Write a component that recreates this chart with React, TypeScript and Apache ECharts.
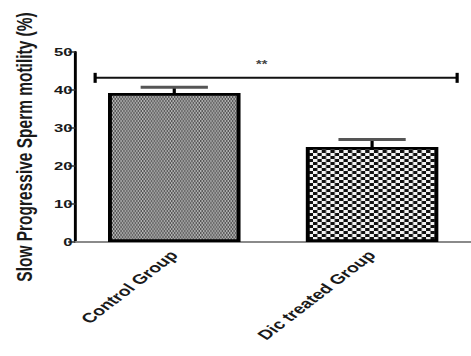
import React, { useEffect, useRef } from "react";
import * as echarts from "echarts";

const categories = ["Control Group", "Dic treated Group"];
const means = [39.2, 25.0];
const errors = [1.5, 2.0];
const yTicks = [0, 10, 20, 30, 40, 50];
const sigLevel = [43.2];
const sigLabel = "**";
const yTitle = "Slow Progressive Sperm motility (%)";

// The reference figure is stretched horizontally; the chart is drawn narrower and scaled in x.
const STRETCH = 1.4492;
const BASE_W = 325;
const BASE_H = 356;

function makePattern(cw: number, ch: number, c1: string, c2: string) {
  const cv = document.createElement("canvas");
  cv.width = cw * 2;
  cv.height = ch * 2;
  const ctx = cv.getContext("2d")!;
  ctx.fillStyle = c1;
  ctx.fillRect(0, 0, cw * 2, ch * 2);
  ctx.fillStyle = c2;
  ctx.fillRect(0, 0, cw, ch);
  ctx.fillRect(cw, ch, cw, ch);
  return cv;
}

export default function App() {
  const ref = useRef<HTMLDivElement>(null);
  useEffect(() => {
    if (!ref.current) return;
    const chart = echarts.init(ref.current, undefined, { renderer: "svg" });
    const p1 = makePattern(1, 2, "#b4b4b4", "#555555");
    const p2 = makePattern(3, 3, "#f4f4f4", "#111111");
    const font = "'Liberation Sans', Arial, sans-serif";
    chart.setOption({
      animation: false,
      backgroundColor: "#ffffff",
      grid: { left: 52, top: 52, width: 277, bottom: 114 },
      xAxis: {
        type: "category",
        data: categories,
        axisLine: { lineStyle: { color: "#8a8a8a", width: 2 } },
        axisTick: { alignWithLabel: true, length: 6, lineStyle: { color: "#111", width: 1.5 } },
        axisLabel: {
          rotate: 48,
          margin: 11,
          color: "#1a1a1a",
          fontWeight: "bold",
          fontSize: 13.5,
          fontFamily: font,
        },
      },
      yAxis: {
        type: "value",
        min: yTicks[0],
        max: yTicks[yTicks.length - 1],
        interval: 10,
        splitLine: { show: false },
        axisLine: { show: true, lineStyle: { color: "#000", width: 2 } },
        axisTick: { show: true, length: 5, lineStyle: { color: "#333", width: 1.5 } },
        axisLabel: {
          color: "#1a1a1a",
          fontWeight: "bold",
          fontSize: 11.5,
          fontFamily: font,
          margin: 2,
        },
        name: yTitle,
        nameLocation: "middle",
        nameRotate: 90,
        nameGap: 27,
        nameTextStyle: {
          color: "#1a1a1a",
          fontWeight: "bold",
          fontSize: 15.5,
          fontFamily: font,
        },
      },
      series: [
        {
          type: "bar",
          barWidth: "67%",
          data: means.map((v, i) => ({
            value: v,
            itemStyle: {
              color: { image: i === 0 ? p1 : p2, repeat: "repeat" },
              borderColor: "#000",
              borderWidth: 2.7,
            },
          })),
          z: 2,
        },
        {
          type: "custom",
          z: 3,
          data: means.map((m, i) => [i, m, m + errors[i]]),
          renderItem: (params: any, api: any) => {
            const x = api.value(0);
            const top = api.coord([x, api.value(1)]);
            const hi = api.coord([x, api.value(2)]);
            const bw = api.size([1, 0])[0];
            const hw = bw * 0.17;
            return {
              type: "group",
              children: [
                {
                  type: "line",
                  shape: { x1: top[0], y1: top[1], x2: hi[0], y2: hi[1] },
                  style: { stroke: "#000", lineWidth: 2.2 },
                },
                {
                  type: "line",
                  shape: { x1: hi[0] - hw, y1: hi[1], x2: hi[0] + hw, y2: hi[1] },
                  style: { stroke: "#555", lineWidth: 3 },
                },
              ],
            };
          },
        },
        {
          type: "custom",
          z: 3,
          data: [[0, sigLevel[0]]],
          renderItem: (params: any, api: any) => {
            const a = api.coord([0, api.value(1)]);
            const b = api.coord([1, api.value(1)]);
            const bw = api.size([1, 0])[0];
            const x1 = a[0] - bw * 0.4;
            const x2 = b[0] + bw * 0.43;
            const y = a[1];
            return {
              type: "group",
              children: [
                {
                  type: "line",
                  shape: { x1, y1: y, x2, y2: y },
                  style: { stroke: "#111", lineWidth: 2 },
                },
                {
                  type: "line",
                  shape: { x1, y1: y - 5, x2: x1, y2: y + 5 },
                  style: { stroke: "#000", lineWidth: 2.2 },
                },
                {
                  type: "line",
                  shape: { x1: x2, y1: y - 5, x2, y2: y + 5 },
                  style: { stroke: "#000", lineWidth: 2.2 },
                },
                {
                  type: "text",
                  style: {
                    x: x1 + (x2 - x1) * 0.46,
                    y: y - 8,
                    text: sigLabel,
                    fill: "#444",
                    font: "bold 10px 'Liberation Sans', Arial, sans-serif",
                    textAlign: "center",
                    textVerticalAlign: "bottom",
                  },
                },
              ],
            };
          },
        },
      ],
    });
    return () => chart.dispose();
  }, []);
  return (
    <div
      style={{
        position: "absolute",
        left: 0,
        top: 0,
        width: 471,
        height: BASE_H,
        overflow: "hidden",
        background: "#fff",
      }}
    >
      <div
        ref={ref}
        style={{
          width: BASE_W,
          height: BASE_H,
          transform: `scaleX(${STRETCH})`,
          transformOrigin: "0 0",
        }}
      />
    </div>
  );
}
